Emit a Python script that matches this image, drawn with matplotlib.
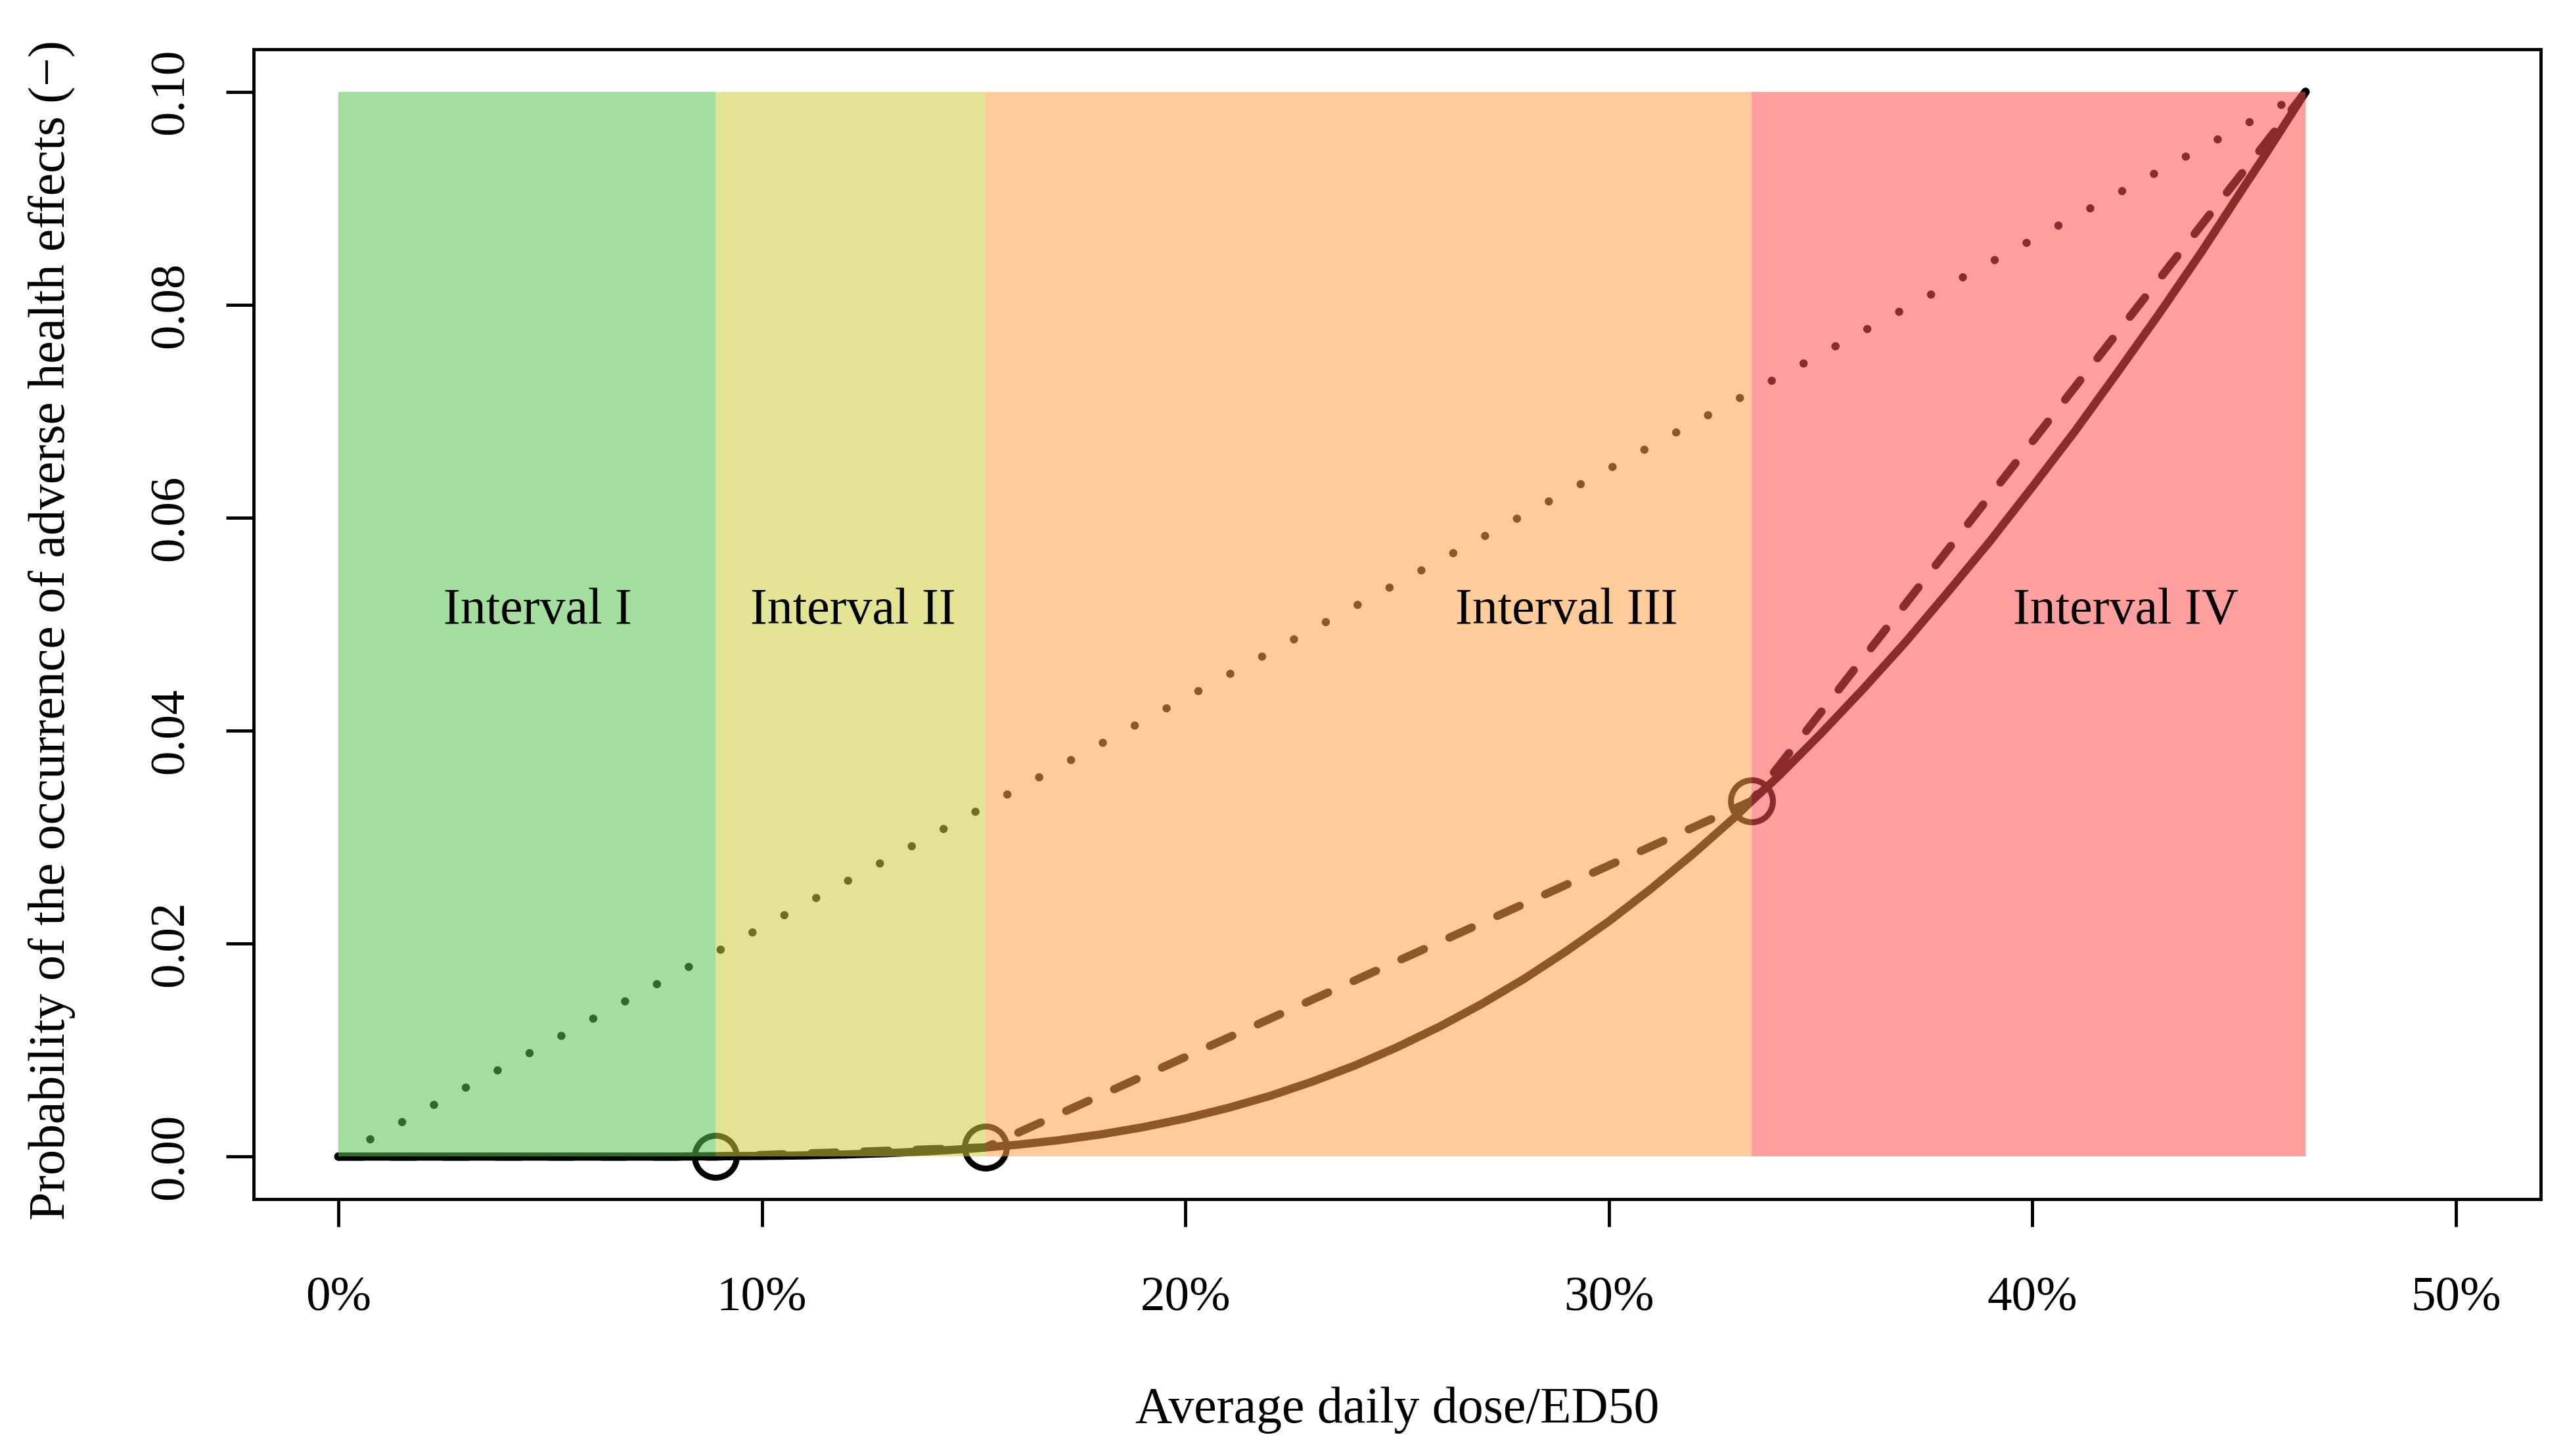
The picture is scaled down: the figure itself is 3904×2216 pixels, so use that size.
import numpy as np
import matplotlib
matplotlib.use("Agg")
import matplotlib.pyplot as plt

plt.rcParams['font.family'] = ['Liberation Serif', 'DejaVu Serif']

# interval boundaries (dose / ED50)
bounds = [0.0, 0.0891, 0.1528, 0.3337, 0.4645]
interval_names = ["Interval I", "Interval II", "Interval III", "Interval IV"]
interval_colors = ["#58C34F", "#CCCC3C", "#FFA246", "#FF4F4F"]
label_x = [0.047, 0.1215, 0.290, 0.422]
label_y = 0.0512

# dose-response curve
curve_x = [0.0, 0.02, 0.04, 0.06, 0.08, 0.0891, 0.10, 0.11, 0.12, 0.13, 0.14, 0.15, 0.1528,
           0.16, 0.17, 0.18, 0.19, 0.20, 0.21, 0.22, 0.23, 0.24, 0.25, 0.26, 0.27,
           0.28, 0.29, 0.30, 0.31, 0.32, 0.33, 0.3337, 0.34, 0.35, 0.36, 0.37, 0.38,
           0.39, 0.40, 0.41, 0.42, 0.43, 0.44, 0.45, 0.455, 0.4645]
curve_y = [0.0, 0.0, 0.0, 0.0, 0.0, 0.00003, 0.00006, 0.00011, 0.0002, 0.00033, 0.00051, 0.00076, 0.00086,
           0.0011, 0.00153, 0.00208, 0.00276, 0.00358, 0.00456, 0.0057, 0.00704, 0.00855, 0.01027, 0.0122, 0.01434,
           0.0167, 0.0193, 0.0221, 0.02517, 0.02846, 0.03197, 0.0334, 0.0357, 0.0397, 0.0439, 0.0483, 0.0530,
           0.0578, 0.0629, 0.0681, 0.0736, 0.0792, 0.0850, 0.0911, 0.0941, 0.1000]

# piecewise linear approximation through the interval end points
knot_x = [0.0, 0.0891, 0.1528, 0.3337, 0.4645]
knot_y = [0.0, 0.0, 0.00086, 0.0334, 0.1000]

# straight line from origin to the last point
lin_x = [0.0, 0.4645]
lin_y = [0.0, 0.1000]

fig = plt.figure(figsize=(39.04, 22.16), dpi=100)
ax = fig.add_axes([0.0989, 0.1764, 0.8916, 0.7898])

lw = 9
ax.plot(curve_x, curve_y, color="black", lw=lw, solid_capstyle="round",
        solid_joinstyle="round", zorder=2)
ax.plot(knot_x, knot_y, color="black", lw=lw, linestyle=(0, (3.0, 3.4)),
        dash_capstyle="round", zorder=2)
ax.plot(lin_x, lin_y, color="black", lw=lw, linestyle=(0, (0.01, 4.4)),
        dash_capstyle="round", zorder=2)
ax.plot(knot_x[1:4], knot_y[1:4], linestyle="none", marker="o", markersize=46,
        markerfacecolor="none", markeredgecolor="black", markeredgewidth=6.5, zorder=2)

# translucent interval bands over the lines
for i in range(4):
    ax.fill_between([bounds[i], bounds[i + 1]], 0, 0.1, color=interval_colors[i],
                    alpha=0.55, linewidth=0, zorder=3)
    ax.text(label_x[i], label_y, interval_names[i], fontsize=56, ha="center",
            va="center", zorder=4)

ax.set_xlim(-0.02, 0.52)
ax.set_ylim(-0.004, 0.104)
ax.set_xticks([0.0, 0.1, 0.2, 0.3, 0.4, 0.5])
ax.set_xticklabels(["0%", "10%", "20%", "30%", "40%", "50%"])
ax.set_yticks([0.0, 0.02, 0.04, 0.06, 0.08, 0.10])
ax.set_yticklabels(["0.00", "0.02", "0.04", "0.06", "0.08", "0.10"], rotation=90, va="center")
ax.tick_params(axis="both", length=30, width=3.5, labelsize=54, direction="out")
ax.tick_params(axis="x", pad=55)
ax.tick_params(axis="y", pad=36)
for s in ax.spines.values():
    s.set_linewidth(3.5)

ax.set_xlabel("Average daily dose/ED50", fontsize=56)
ax.xaxis.set_label_coords(0.5, -0.163)
ax.set_ylabel("Probability of the occurrence of adverse health effects (\u2212)", fontsize=56)
ax.yaxis.set_label_coords(-0.078, 0.495)

fig.savefig("out.png", dpi=100)
